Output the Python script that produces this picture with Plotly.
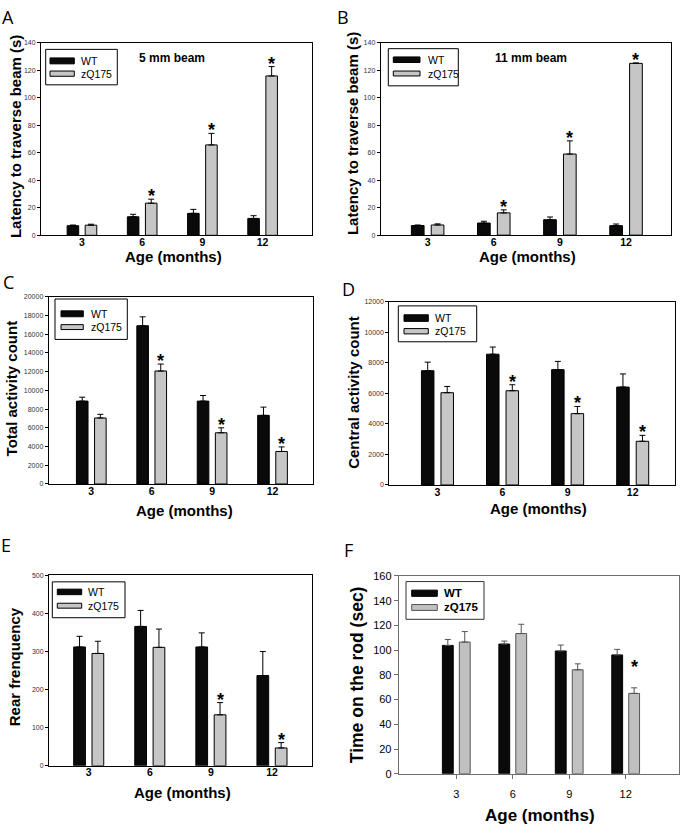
import plotly.graph_objects as go

W, H = 684, 830
FONT = "Liberation Sans, Arial, sans-serif"

# ---------------- data ----------------
ages = ["3", "6", "9", "12"]
series_names = ["WT", "zQ175"]

a_wt = [7.0, 13.5, 16.0, 12.3]
a_wt_err = [0.5, 1.8, 2.9, 2.0]
a_zq = [7.4, 23.4, 65.8, 116.0]
a_zq_err = [0.7, 2.9, 8.4, 6.8]
a_sig = [0, 1, 1, 1]

b_wt = [7.0, 8.8, 11.2, 6.9]
b_wt_err = [0.4, 1.3, 2.0, 1.2]
b_zq = [7.4, 16.2, 59.0, 125.0]
b_zq_err = [0.8, 2.2, 9.6, 0.3]
b_sig = [0, 1, 1, 1]

c_wt = [8850, 16900, 8850, 7330]
c_wt_err = [420, 950, 600, 880]
c_zq = [7050, 12070, 5470, 3470]
c_zq_err = [390, 740, 530, 490]
c_sig = [0, 1, 1, 1]

d_wt = [7480, 8560, 7550, 6410]
d_wt_err = [560, 470, 540, 860]
d_zq = [6040, 6170, 4670, 2860]
d_zq_err = [410, 390, 470, 390]
d_sig = [0, 1, 1, 1]

e_wt = [312, 366, 312, 237]
e_wt_err = [28, 42, 37, 63]
e_zq = [295, 311, 134, 47]
e_zq_err = [32, 48, 32, 14]
e_sig = [0, 0, 1, 1]

f_wt = [103.8, 104.9, 99.3, 96.1]
f_wt_err = [4.8, 2.4, 4.8, 4.5]
f_zq = [106.5, 113.4, 84.1, 65.0]
f_zq_err = [8.5, 7.5, 4.8, 4.5]
f_star_y = [None, None, None, 84]

# ---------------- layout helpers ----------------
BARGAP = 0.40
GROUPGAP = 0.36
ZQ_OFF = (1 - BARGAP) / 4


def px(x):
    return x / W


def py(y):
    return 1 - y / H


panels = [
    dict(letter="A", letter_xy=(8, 11), wt=a_wt, wte=a_wt_err, zq=a_zq, zqe=a_zq_err,
         stars=[(a_zq[i] + a_zq_err[i]) if s else None for i, s in enumerate(a_sig)],
         ytitle="Latency to traverse beam (s)", yrange=[0, 140], dtick=20,
         box=(41, 312, 37.5, 232.7), xrange=[-0.68, 3.82],
         ytitle_xy=(15, 133), xtitle_xy=(173, 254.5),
         leg=dict(box=(45.7, 44, 117.3, 80), sw=(50, 74.3), rows=[(52.7, 58.7), (66, 71.3)], tx=79.3, ty=[55.7, 69.3]),
         beam=("5 mm beam", 171.7, 53), style="sp"),
    dict(letter="B", letter_xy=(343, 11), wt=b_wt, wte=b_wt_err, zq=b_zq, zqe=b_zq_err,
         stars=[(b_zq[i] + b_zq_err[i]) if s else None for i, s in enumerate(b_sig)],
         ytitle="Latency to traverse beam (s)", yrange=[0, 140], dtick=20,
         box=(380.7, 671, 37.3, 232.5), xrange=[-0.71, 3.68],
         ytitle_xy=(352, 130), xtitle_xy=(527, 254.5),
         leg=dict(box=(388.3, 43.3, 458.3, 81), sw=(393.3, 420), rows=[(51.7, 57.3), (66, 71)], tx=426, ty=[54.3, 68.7]),
         beam=("11 mm beam", 531, 53), style="sp"),
    dict(letter="C", letter_xy=(8, 280), wt=c_wt, wte=c_wt_err, zq=c_zq, zqe=c_zq_err,
         stars=[(c_zq[i] + c_zq_err[i]) if s else None for i, s in enumerate(c_sig)],
         ytitle="Total activity count", yrange=[0, 20000], dtick=2000,
         box=(48.7, 313.3, 295, 485), xrange=[-0.705, 3.675],
         ytitle_xy=(11, 388), xtitle_xy=(184, 512),
         leg=dict(box=(55, 297.3, 127.3, 338.3), sw=(61, 83.3), rows=[(309.3, 315.3), (323.3, 328.3)], tx=89.3, ty=[312.3, 326]),
         beam=None, style="sp"),
    dict(letter="D", letter_xy=(348, 287), wt=d_wt, wte=d_wt_err, zq=d_zq, zqe=d_zq_err,
         stars=[(d_zq[i] + d_zq_err[i]) if s else None for i, s in enumerate(d_sig)],
         ytitle="Central activity count", yrange=[0, 12000], dtick=2000,
         box=(389.3, 675, 300, 486), xrange=[-0.74, 3.65],
         ytitle_xy=(353.5, 392), xtitle_xy=(538, 510),
         leg=dict(box=(398.3, 304.3, 476.7, 340.7), sw=(404, 428.3), rows=[(313.3, 320), (327.3, 332.7)], tx=433.3, ty=[316.7, 330]),
         beam=None, style="sp"),
    dict(letter="E", letter_xy=(6, 547), wt=e_wt, wte=e_wt_err, zq=e_zq, zqe=e_zq_err,
         stars=[(e_zq[i] + e_zq_err[i]) if s else None for i, s in enumerate(e_sig)],
         ytitle="Rear frenquency", yrange=[0, 500], dtick=100,
         box=(49, 312.3, 577.7, 771), xrange=[-0.65, 3.66],
         ytitle_xy=(14, 671), xtitle_xy=(182, 798),
         leg=dict(box=(52.3, 584.3, 125, 620.7), sw=(57.3, 81.7), rows=[(591.7, 597.3), (606, 611)], tx=86, ty=[594.7, 608.7]),
         beam=None, style="sp"),
    dict(letter="F", letter_xy=(348, 552), wt=f_wt, wte=f_wt_err, zq=f_zq, zqe=f_zq_err,
         stars=f_star_y,
         ytitle="Time on the rod (sec)", yrange=[0, 160], dtick=20,
         box=(398.7, 679.3, 578.3, 779), xrange=[-1.02, 3.95],
         ytitle_xy=(357, 678), xtitle_xy=(540, 821),
         leg=dict(box=(406, 584, 484, 622.3), sw=(411.7, 437.3), rows=[(592.7, 599), (607.3, 613.3)], tx=442.3, ty=[595.7, 610.3]),
         beam=None, style="f"),
]

fig = go.Figure()
shapes = []
annotations = []
layout_axes = {}

for i, p in enumerate(panels):
    n = "" if i == 0 else str(i + 1)
    xa, ya = "x" + n, "y" + n
    is_f = p["style"] == "f"
    line_col = "#6e6e6e" if is_f else "#000000"
    zq_line = "#555555" if is_f else "#000000"
    err_col = "#555555" if is_f else "#000000"
    zq_fill = "#c0c0c0" if is_f else "#c6c6c6"

    fig.add_trace(go.Bar(
        x=ages, y=p["wt"], name=series_names[0], xaxis=xa, yaxis=ya, showlegend=False,
        marker=dict(color="#0a0a0a", line=dict(color="#000000", width=1)),
        error_y=dict(type="data", array=p["wte"], arrayminus=[0] * len(ages), symmetric=False,
                     color=err_col, thickness=1, width=3),
    ))
    fig.add_trace(go.Bar(
        x=ages, y=p["zq"], name=series_names[1], xaxis=xa, yaxis=ya, showlegend=False,
        marker=dict(color=zq_fill, line=dict(color=zq_line, width=1)),
        error_y=dict(type="data", array=p["zqe"], arrayminus=[0] * len(ages), symmetric=False,
                     color=err_col, thickness=1, width=3),
    ))

    l, r, t, b = p["box"]
    xkey = "xaxis" + n
    ykey = "yaxis" + n
    layout_axes[xkey] = dict(
        domain=[px(l), px(r)], anchor=ya, type="category", categoryorder="array",
        categoryarray=ages, range=p["xrange"], showgrid=False, zeroline=False,
        showline=True, mirror=True, linecolor=line_col, linewidth=1,
        ticks="outside" if is_f else "", ticklen=4, tickcolor=line_col,
        ticklabelstandoff=6 if is_f else -3,
        tickfont=dict(family=FONT, size=11 if is_f else 10.5, color="#000",
                      weight="normal" if is_f else "bold"),
    )
    layout_axes[ykey] = dict(
        domain=[py(b), py(t)], anchor=xa, range=p["yrange"], dtick=p["dtick"],
        tickformat="d",
        showgrid=False, zeroline=False, showline=True, mirror=True,
        linecolor=line_col, linewidth=1, ticks="outside",
        ticklen=4 if is_f else 3, tickcolor=line_col,
        tickfont=dict(family=FONT, size=11 if is_f else 7, color="#000" if is_f else "#333"),
    )

    # panel letter
    annotations.append(dict(text=p["letter"], x=px(p["letter_xy"][0]), y=py(p["letter_xy"][1]),
                            xref="paper", yref="paper", showarrow=False, xanchor="center",
                            yanchor="middle", font=dict(family="Open Sans, DejaVu Sans, sans-serif", size=18, color="#000")))
    # axis titles
    tsize = 17.5 if is_f else 15
    annotations.append(dict(text=p["ytitle"], x=px(p["ytitle_xy"][0]), y=py(p["ytitle_xy"][1]),
                            xref="paper", yref="paper", showarrow=False, textangle=-90,
                            xanchor="center", yanchor="middle",
                            font=dict(family=FONT, size=tsize, color="#000", weight="bold")))
    annotations.append(dict(text="Age (months)", x=px(p["xtitle_xy"][0]), y=py(p["xtitle_xy"][1]),
                            xref="paper", yref="paper", showarrow=False,
                            xanchor="center", yanchor="middle",
                            font=dict(family=FONT, size=17 if is_f else 15, color="#000", weight="bold")))
    # beam label
    if p["beam"]:
        txt, bx, by = p["beam"]
        annotations.append(dict(text=txt, x=px(bx), y=py(by), xref="paper", yref="paper",
                                showarrow=False, xanchor="center", yanchor="middle",
                                font=dict(family=FONT, size=12, color="#000", weight="bold")))
    # significance stars
    for j, sy in enumerate(p["stars"]):
        if sy is None:
            continue
        annotations.append(dict(text="*", x=j + ZQ_OFF, y=sy, xref=xa, yref=ya, showarrow=False,
                                xanchor="center", yanchor="bottom", yshift=-9,
                                font=dict(family=FONT, size=18, color="#000", weight="bold")))
    # custom legend
    lg = p["leg"]
    bl, bt, br, bb = lg["box"]
    shapes.append(dict(type="rect", xref="paper", yref="paper", x0=px(bl), x1=px(br),
                       y0=py(bb), y1=py(bt), line=dict(color="#000" if not is_f else "#333", width=1),
                       fillcolor="rgba(0,0,0,0)", layer="above"))
    fills = ["#0a0a0a", zq_fill]
    lines = ["#000000", zq_line]
    for k, (r0, r1) in enumerate(lg["rows"]):
        shapes.append(dict(type="rect", xref="paper", yref="paper", x0=px(lg["sw"][0]), x1=px(lg["sw"][1]),
                           y0=py(r1), y1=py(r0), line=dict(color=lines[k], width=1),
                           fillcolor=fills[k], layer="above"))
        annotations.append(dict(text=series_names[k], x=px(lg["tx"]), y=py(lg["ty"][k]),
                                xref="paper", yref="paper", showarrow=False,
                                xanchor="left", yanchor="middle",
                                font=dict(family=FONT, size=11.5 if is_f else 10.5, color="#000",
                                          weight="bold" if is_f else "normal")))

fig.update_layout(
    width=W, height=H, margin=dict(l=0, r=0, t=0, b=0),
    paper_bgcolor="white", plot_bgcolor="white",
    barmode="group", bargap=BARGAP, bargroupgap=GROUPGAP,
    showlegend=False, shapes=shapes, annotations=annotations,
    font=dict(family=FONT, color="#000"),
    **layout_axes,
)

fig.write_html(
    "out.html",
    config=dict(displayModeBar=False),
    post_script="document.body.style.margin='0px';document.body.style.overflow='hidden';",
)
